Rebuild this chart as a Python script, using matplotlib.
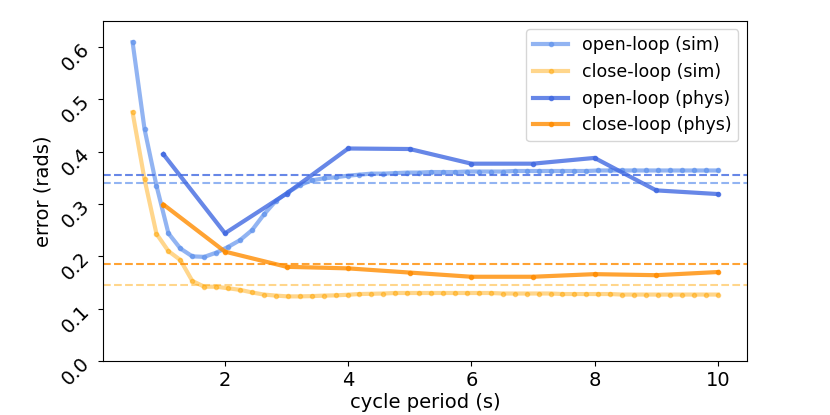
import numpy as np
import matplotlib
matplotlib.use('Agg')
import matplotlib.pyplot as plt

# simulated sweep (50 periods from 0.5 to 10 s)
sim_period = np.linspace(0.5, 10, 50)
open_sim = [0.609, 0.443, 0.335, 0.244, 0.215, 0.200, 0.199, 0.207, 0.218, 0.231,
            0.250, 0.280, 0.306, 0.322, 0.336, 0.345, 0.349, 0.351, 0.354, 0.356,
            0.358, 0.358, 0.359, 0.360, 0.360, 0.361, 0.361, 0.361, 0.362, 0.362,
            0.362, 0.362, 0.363, 0.363, 0.363, 0.363, 0.363, 0.363, 0.363, 0.364,
            0.364, 0.364, 0.364, 0.364, 0.364, 0.364, 0.364, 0.364, 0.364, 0.364]
close_sim = [0.475, 0.347, 0.243, 0.210, 0.193, 0.153, 0.142, 0.142, 0.139, 0.136,
             0.131, 0.127, 0.125, 0.1235, 0.1235, 0.124, 0.125, 0.1255, 0.1266, 0.128,
             0.1285, 0.129, 0.130, 0.130, 0.130, 0.130, 0.130, 0.130, 0.130, 0.130,
             0.130, 0.129, 0.129, 0.129, 0.129, 0.129, 0.128, 0.128, 0.128, 0.128,
             0.128, 0.127, 0.127, 0.127, 0.127, 0.127, 0.127, 0.127, 0.127, 0.127]

# physical robot runs
phys_period = [1, 2, 3, 4, 5, 6, 7, 8, 9, 10]
open_phys = [0.395, 0.244, 0.320, 0.406, 0.405, 0.377, 0.377, 0.388, 0.326, 0.319]
close_phys = [0.299, 0.209, 0.180, 0.177, 0.169, 0.161, 0.161, 0.166, 0.164, 0.170]

series = [
    (sim_period, open_sim, 'open-loop (sim)', 'cornflowerblue', 0.7),
    (sim_period, close_sim, 'close-loop (sim)', 'orange', 0.45),
    (phys_period, open_phys, 'open-loop (phys)', 'royalblue', 0.8),
    (phys_period, close_phys, 'close-loop (phys)', 'darkorange', 0.8),
]

fig = plt.figure(figsize=(8.3, 4.15), dpi=100)
ax = fig.add_axes([0.1245, 0.13, 0.7755, 0.82])

for x, y, name, col, a in series:
    ax.plot(x, y, color=col, alpha=a, lw=3, marker='.', ms=6, label=name)
    # mean error as dashed line
    ax.axhline(np.mean(y), color=col, alpha=a, lw=1.5, ls='--')

ax.set_ylim(0, 0.65)
ax.set_xticks([2, 4, 6, 8, 10])
ax.tick_params(labelsize=14)
plt.setp(ax.get_yticklabels(), rotation=45)
ax.set_xlabel('cycle period (s)', fontsize=14, labelpad=2)
ax.set_ylabel('error (rads)', fontsize=14)
ax.legend(loc='upper right', fontsize=12.5)

fig.savefig('out.png', dpi=100)
